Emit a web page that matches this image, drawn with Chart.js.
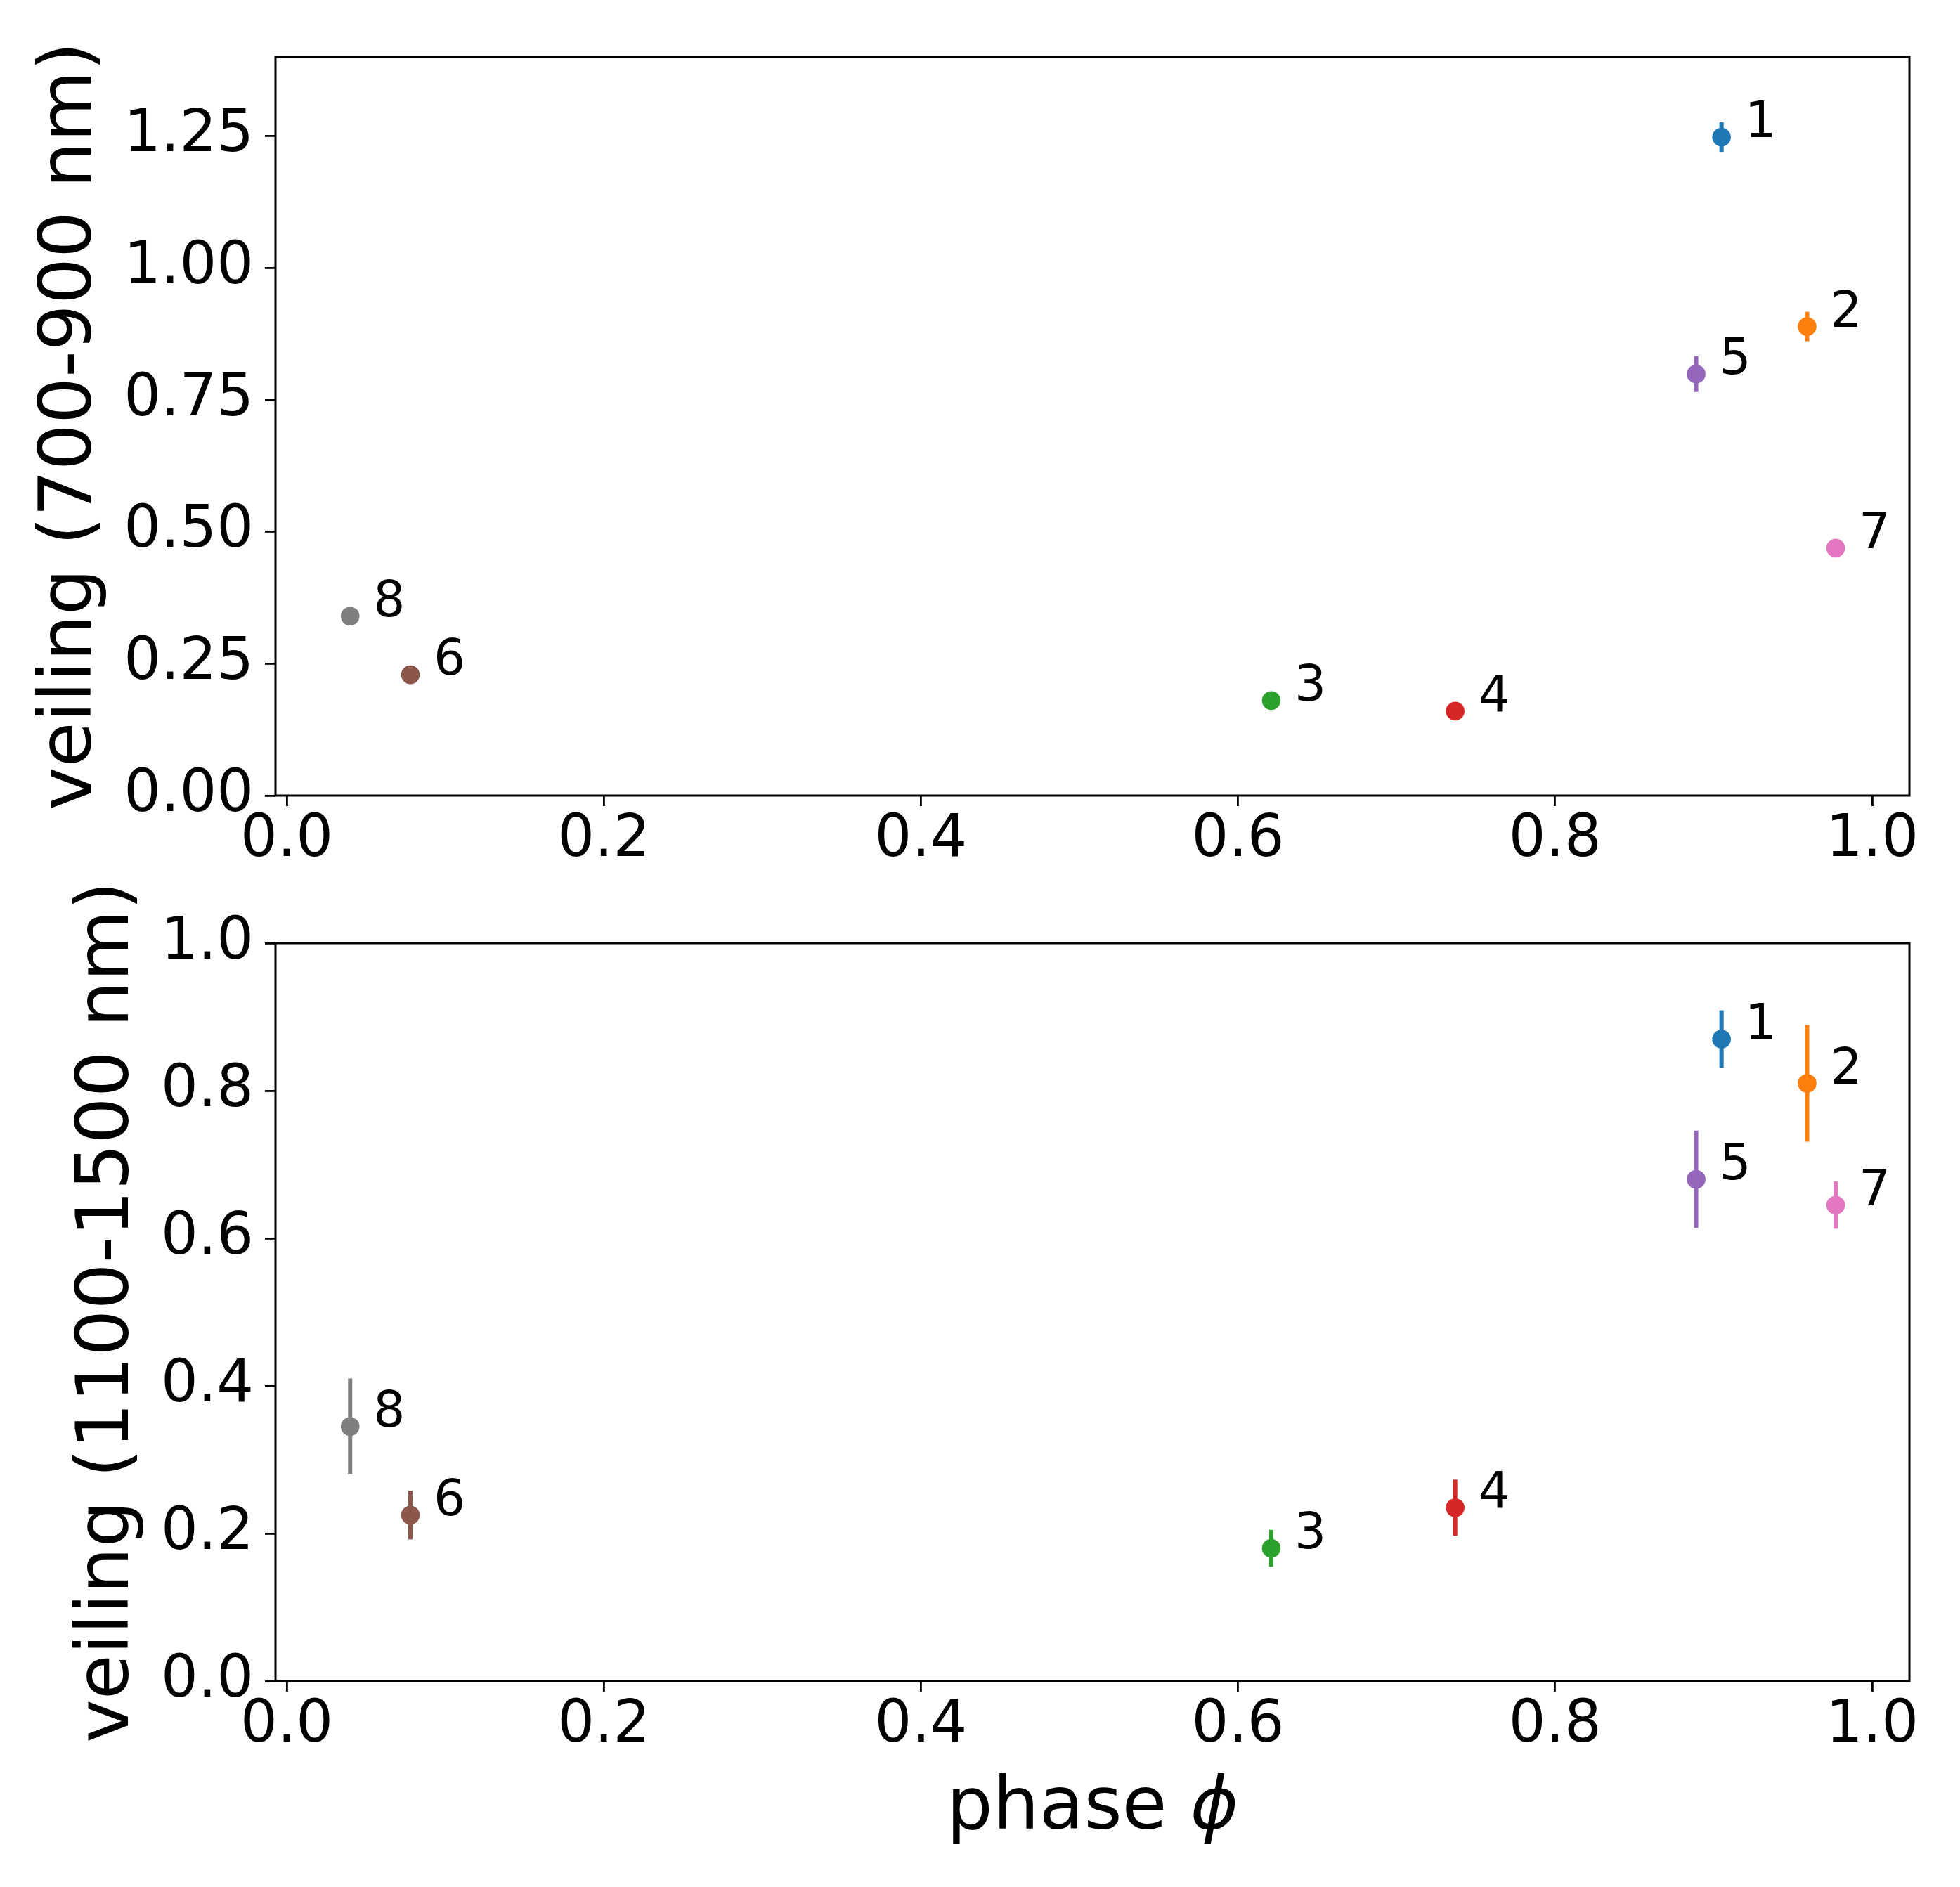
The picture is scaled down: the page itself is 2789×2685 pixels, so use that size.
<!DOCTYPE html>
<html>
<head>
<meta charset="utf-8">
<script src="https://cdn.jsdelivr.net/npm/chart.js@4.4.1/dist/chart.umd.min.js"></script>
<style>
html, body { margin: 0; padding: 0; background: #fff; }
#wrap { position: relative; width: 2789px; height: 2685px; }
canvas { position: absolute; left: 0; }
</style>
</head>
<body>
<div id="wrap">
  <canvas id="topChart" width="2789" height="1250" style="top:0"></canvas>
  <canvas id="botChart" width="2789" height="1435" style="top:1250px"></canvas>
</div>
<script>
// observation numbers and their phases
const obsLabels = ['1', '2', '3', '4', '5', '6', '7', '8'];
const phase = [0.905, 0.959, 0.621, 0.737, 0.889, 0.078, 0.977, 0.040];

// veiling 700-900 nm
const veilRed = [1.248, 0.889, 0.180, 0.160, 0.799, 0.229, 0.469, 0.340];
const errRed = [0.028, 0.028, 0.010, 0.010, 0.034, 0.010, 0.012, 0.010];

// veiling 1100-1500 nm
const veilNir = [0.870, 0.810, 0.180, 0.235, 0.680, 0.225, 0.645, 0.345];
const errNir = [0.039, 0.079, 0.025, 0.038, 0.066, 0.033, 0.032, 0.065];

const xTicks = [0, 0.2, 0.4, 0.6, 0.8, 1.0];
const yTicksRed = [0, 0.25, 0.5, 0.75, 1.0, 1.25];
const yTicksNir = [0, 0.2, 0.4, 0.6, 0.8, 1.0];

const colors = ['#1f77b4', '#ff7f0e', '#2ca02c', '#d62728', '#9467bd', '#8c564b', '#e377c2', '#7f7f7f'];

const FONT = '"DejaVu Sans", sans-serif';
Chart.defaults.color = '#000';
Chart.defaults.font.family = FONT;

// vertical error bars, drawn under the markers
const errorBars = {
  id: 'errorBars',
  beforeDatasetsDraw(chart) {
    const ctx = chart.ctx, xs = chart.scales.x, ys = chart.scales.y;
    chart.data.datasets.forEach(ds => {
      const p = ds.data[0];
      const px = xs.getPixelForValue(p.x);
      ctx.save();
      ctx.strokeStyle = ds.backgroundColor;
      ctx.lineWidth = 6;
      ctx.beginPath();
      ctx.moveTo(px, ys.getPixelForValue(p.y - ds.err));
      ctx.lineTo(px, ys.getPixelForValue(p.y + ds.err));
      ctx.stroke();
      ctx.restore();
    });
  }
};

// the little numbers next to each point
const pointNumbers = {
  id: 'pointNumbers',
  afterDatasetsDraw(chart) {
    const ctx = chart.ctx;
    ctx.save();
    ctx.fillStyle = '#000';
    ctx.font = '71px ' + FONT;
    ctx.textAlign = 'left';
    ctx.textBaseline = 'alphabetic';
    chart.data.datasets.forEach((ds, i) => {
      const el = chart.getDatasetMeta(i).data[0];
      ctx.fillText(ds.label, el.x + 33, el.y);
    });
    ctx.restore();
  }
};

// full box round the plot area
const frame = {
  id: 'frame',
  afterDraw(chart) {
    const a = chart.chartArea, ctx = chart.ctx;
    ctx.save();
    ctx.strokeStyle = '#000';
    ctx.lineWidth = 3;
    ctx.strokeRect(a.left, a.top, a.right - a.left, a.bottom - a.top);
    ctx.restore();
  }
};

// x label with an italic phi
const xLabel = {
  id: 'xLabel',
  afterDraw(chart) {
    const ctx = chart.ctx, a = chart.chartArea;
    ctx.save();
    ctx.fillStyle = '#000';
    ctx.textBaseline = 'alphabetic';
    ctx.textAlign = 'left';
    ctx.font = '104px ' + FONT;
    const w1 = ctx.measureText('phase ').width;
    ctx.font = 'italic 104px ' + FONT;
    const w2 = ctx.measureText('\u03d5').width;
    let x = (a.left + a.right) / 2 - (w1 + w2) / 2;
    const y = a.bottom + 210;
    ctx.font = '104px ' + FONT;
    ctx.fillText('phase ', x, y);
    ctx.font = 'italic 104px ' + FONT;
    ctx.fillText('\u03d5', x + w1, y);
    ctx.restore();
  }
};

function makeChart(id, yVals, yErr, yTicks, yMax, yDigits, yTitle, titlePad, padTop, xHeight, extra) {
  const datasets = obsLabels.map((lab, i) => ({
    label: lab,
    data: [{ x: phase[i], y: yVals[i] }],
    err: yErr[i],
    backgroundColor: colors[i],
    borderWidth: 0,
    pointRadius: 13.3,
    pointHoverRadius: 13.3
  }));
  const tickGrid = {
    display: true,
    drawOnChartArea: false,
    drawTicks: true,
    tickLength: 15,
    color: '#000',
    lineWidth: 2.8
  };
  return new Chart(document.getElementById(id), {
    type: 'scatter',
    data: { datasets },
    options: {
      responsive: false,
      animation: false,
      devicePixelRatio: 1,
      events: [],
      layout: { padding: { left: 0, right: 72, top: padTop, bottom: 0 } },
      plugins: { legend: { display: false }, tooltip: { enabled: false } },
      scales: {
        x: {
          type: 'linear',
          min: -0.0071,
          max: 1.0235,
          grid: tickGrid,
          border: { display: false },
          afterBuildTicks: s => { s.ticks = xTicks.map(v => ({ value: v })); },
          afterFit: s => { s.height = xHeight; },
          ticks: {
            font: { size: 83, family: FONT },
            padding: 0,
            maxRotation: 0,
            callback: v => v.toFixed(1)
          }
        },
        y: {
          type: 'linear',
          min: 0,
          max: yMax,
          grid: tickGrid,
          border: { display: false },
          afterBuildTicks: s => { s.ticks = yTicks.map(v => ({ value: v })); },
          afterFit: s => { s.width = 392; },
          title: {
            display: true,
            text: yTitle,
            font: { size: 104, family: FONT },
            padding: { top: titlePad, bottom: 0 }
          },
          ticks: {
            font: { size: 83, family: FONT },
            padding: 16,
            callback: v => v.toFixed(yDigits)
          }
        }
      }
    },
    plugins: [errorBars, pointNumbers, frame].concat(extra)
  });
}

makeChart('topChart', veilRed, errRed, yTicksRed, 1.4, 2, 'veiling (700-900 nm)', 40, 81, 118, []);
makeChart('botChart', veilNir, errNir, yTicksNir, 1.0, 1, 'veiling (1100-1500 nm)', 93, 92, 293, [xLabel]);
</script>
</body>
</html>
